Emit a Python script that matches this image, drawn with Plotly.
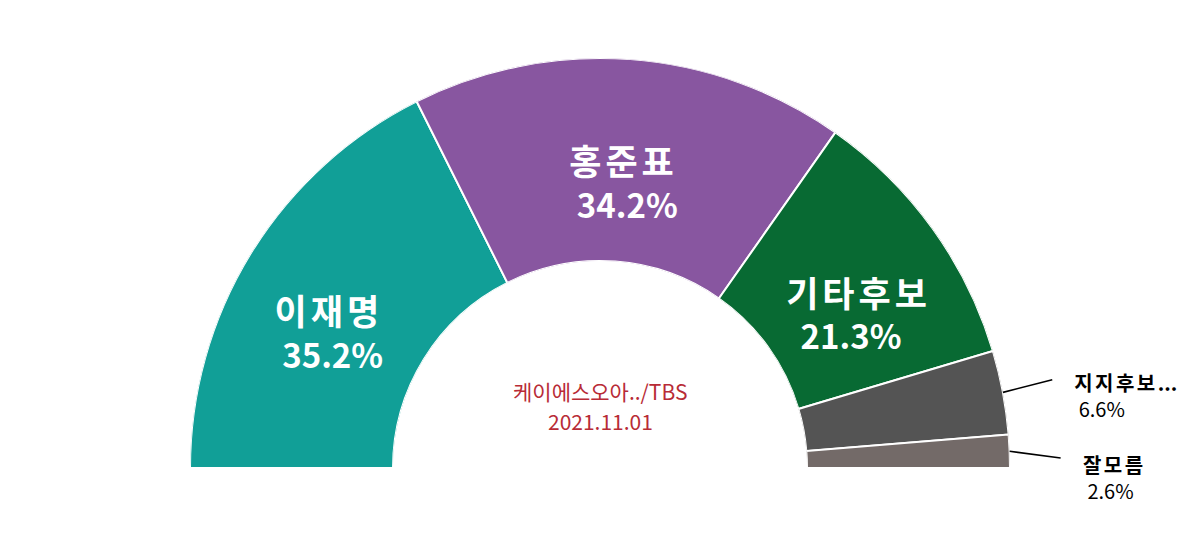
import numpy as np
import plotly.graph_objects as go

# ---- data ----
names = ["이재명", "홍준표", "기타후보", "지지후보...", "잘모름"]
values = [35.2, 34.2, 21.3, 6.6, 2.6]
source_text = "케이에스오아../TBS"
date_text = "2021.11.01"

# ---- style ----
colors = ["#119f97", "#8856a0", "#086a33", "#545454", "#736a68"]
inside = [True, True, True, False, False]
pad2 = [0, 0, 3, 0, 0]            # invisible trailing padding so two-line inside labels look left-aligned
leader_dtheta = [0, 0, 0, -0.4, 1.1]  # small bend of the outside leader lines (deg)
FONT = "Noto Sans CJK KR"

W, H = 1200, 547
OFF = 8                        # browser body margin
CX, CY = 600 - OFF, 468 - OFF  # centre of the half donut (px from top-left of figure)
R_OUT, R_IN = 410.0, 207.0
UNIT = R_OUT - R_IN            # px per radial unit
R2 = 1.4                       # radial range of the label layer

vals = np.array(values, dtype=float)
total = vals.sum()
cum = np.cumsum(vals)
span = vals / total * 180.0
mid = (cum - vals / 2.0) / total * 180.0


def spaced(name, ls, size=None):
    """Wrap the Hangul part of a name in a letter-spaced span (trailing dots kept tight)."""
    core = name.rstrip(".")
    tail = name[len(core):]
    st = f"letter-spacing:{ls}px" + (f";font-size:{size}px" if size else "")
    return f"<span style='{st}'>{core}</span>{tail}"


fig = go.Figure()

fig.add_trace(go.Barpolar(
    r=[1.0] * len(vals),
    theta=mid,
    width=span,
    marker=dict(color=colors, line=dict(color="white", width=2)),
    hoverinfo="skip",
    showlegend=False,
    subplot="polar",
))

# inside labels
in_idx = [i for i in range(len(vals)) if inside[i]]
fig.add_trace(go.Scatterpolar(
    r=[0.55] * len(in_idx),
    theta=[mid[i] for i in in_idx],
    mode="text",
    text=["<b>" + spaced(names[i], 4, 35) + "<br>\u00a0"
          + f"{values[i]:.1f}%" + "\u00a0" * pad2[i] + "</b>" for i in in_idx],
    textposition="bottom center",
    textfont=dict(family=FONT, size=33, color="white"),
    hoverinfo="skip",
    showlegend=False,
    subplot="polar",
))

# outside labels with leader lines (on a wider, invisible label layer)
out_idx = [i for i in range(len(vals)) if not inside[i]]
for i in out_idx:
    fig.add_trace(go.Scatterpolar(
        r=[1.0, 1.25],
        theta=[mid[i], mid[i] + leader_dtheta[i]],
        mode="lines",
        line=dict(color="black", width=1.6),
        cliponaxis=False,
        hoverinfo="skip",
        showlegend=False,
        subplot="polar2",
    ))
fig.add_trace(go.Scatterpolar(
    r=[1.36] * len(out_idx),
    theta=[mid[i] + leader_dtheta[i] for i in out_idx],
    mode="text",
    text=["<b>" + spaced(names[i], 2.5) + "</b><br>\u00a0" + f"{values[i]:.1f}%" for i in out_idx],
    textposition="bottom right",
    textfont=dict(family=FONT, size=20, color="black"),
    cliponaxis=False,
    hoverinfo="skip",
    showlegend=False,
    subplot="polar2",
))

# main polar domain (sector 0..180 -> bbox 2:1)
dom1_x = [(CX - R_OUT) / W, (CX + R_OUT) / W]
dom1_y = [(H - CY) / H, (H - (CY - R_OUT)) / H]

# label layer: sector -5..30 deg, bbox x:[0,1], y:[sin(-5), sin(30)]
sec2 = [-5, 30]
Rpx2 = R_IN + UNIT * R2
ymin_b, ymax_b = np.sin(np.deg2rad(sec2[0])), np.sin(np.deg2rad(sec2[1]))
dom2_x = [CX / W, (CX + Rpx2) / W]
dom2_y = [(H - (CY - ymin_b * Rpx2)) / H, (H - (CY - ymax_b * Rpx2)) / H]

common_ang = dict(visible=False, rotation=180, direction="clockwise", thetaunit="degrees")

center_font = dict(family=FONT, size=21, color="#b82b36")

fig.update_layout(
    width=W, height=H,
    margin=dict(l=0, r=0, t=0, b=0),
    paper_bgcolor="white",
    showlegend=False,
    polar=dict(
        domain=dict(x=dom1_x, y=dom1_y),
        sector=[0, 180],
        hole=R_IN / R_OUT,
        bgcolor="rgba(0,0,0,0)",
        bargap=0,
        radialaxis=dict(visible=False, range=[0, 1]),
        angularaxis=common_ang,
    ),
    polar2=dict(
        domain=dict(x=dom2_x, y=dom2_y),
        sector=sec2,
        hole=R_IN / Rpx2,
        bgcolor="rgba(0,0,0,0)",
        radialaxis=dict(visible=False, range=[0, R2]),
        angularaxis=common_ang,
    ),
    annotations=[
        dict(text=source_text, x=CX / W, y=(H - (391 - OFF)) / H,
             xref="paper", yref="paper", xanchor="center", yanchor="middle",
             showarrow=False, font=center_font),
        dict(text=date_text, x=CX / W, y=(H - (421 - OFF)) / H,
             xref="paper", yref="paper", xanchor="center", yanchor="middle",
             showarrow=False, font=center_font),
    ],
)

fig.write_html("out.html")
